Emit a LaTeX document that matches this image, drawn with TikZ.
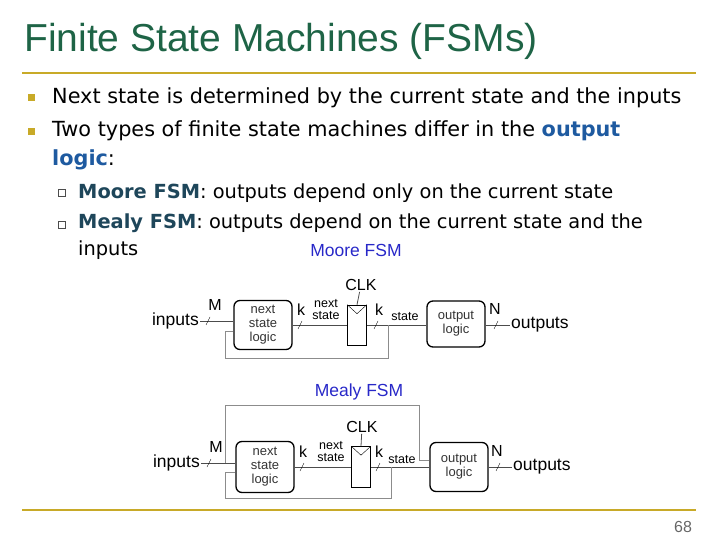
\documentclass[tikz,border=0pt]{standalone}
\usepackage{fontspec}
\setmainfont{DejaVu Sans}
\newfontfamily\arial{Liberation Sans}
\definecolor{ttl}{RGB}{30,100,70}
\definecolor{gold}{RGB}{200,170,40}
\definecolor{hl}{RGB}{30,90,160}
\definecolor{sub}{RGB}{30,70,90}
\definecolor{fsmblue}{RGB}{40,40,200}
\begin{document}
\begin{tikzpicture}[x=1pt,y=-1pt,
  blk/.style={draw,line width=1.3pt,rounded corners=6pt,align=center,font=\arial\fontsize{13}{14}\selectfont,inner sep=0pt,text=black!80},
  reg/.style={draw,fill=white,line width=0.6pt},
  lbl/.style={font=\arial\fontsize{16}{16}\selectfont,inner sep=1pt},
  sml/.style={font=\arial\fontsize{12.5}{12}\selectfont,inner sep=0pt,align=center},
  big/.style={font=\arial\fontsize{17.5}{17}\selectfont,inner sep=1pt},
  wire/.style={draw=black!70,line width=0.8pt},
  fb/.style={draw=black!45,line width=0.8pt},
  bul/.style={fill=gold,minimum size=7pt,inner sep=0pt},
  hbul/.style={draw=black!70,minimum size=7pt,inner sep=0pt}]
\useasboundingbox (0,0) rectangle (720,540);
\node[anchor=west,text=ttl,font=\arial\fontsize{39}{40}\selectfont,inner sep=0pt] (title) at (24,41) {Finite State Machines (FSMs)};
\draw[gold,line width=2pt] (22,73) -- (696,73);
\draw[gold,line width=2pt] (22,510) -- (696,510);
\node[text=black!60,font=\arial\fontsize{16}{16}\selectfont] (pg) at (683,527) {68};
% bullets
\node[bul] (b1) at (31,98) {};
\node[bul] (b2) at (31,132) {};
\node[anchor=west,font=\fontsize{20.8}{20}\selectfont,inner sep=0pt] (t1) at (52,98) {Next state is determined by the current state and the inputs};
\node[anchor=north west,font=\fontsize{20.8}{29}\selectfont,inner sep=0pt,align=left] (t2) at (52,120) {Two types of finite state machines differ in the \textbf{\color{hl}output}\\\textbf{\color{hl}logic}:};
\node[hbul] (s1) at (62,193) {};
\node[hbul] (s2) at (62,225) {};
\node[anchor=west,font=\fontsize{19.4}{18}\selectfont,inner sep=0pt] (u1) at (78,193) {\textbf{\color{sub}Moore FSM}: outputs depend only on the current state};
\node[anchor=north west,font=\fontsize{19.4}{27}\selectfont,inner sep=0pt,align=left] (u2) at (78,214) {\textbf{\color{sub}Mealy FSM}: outputs depend on the current state and the\\inputs};
% ---------- Moore
\node[text=fsmblue,font=\arial\fontsize{17.5}{17}\selectfont] (moore) at (356,250) {Moore FSM};
\node[blk,minimum width=58pt,minimum height=49pt] (ns1) at (263,325) {next\\state\\logic};
\node[reg,minimum width=19pt,minimum height=40pt] (r1) at (357,325) {};
\draw (r1.north west) -- ([yshift=-9pt]r1.north) -- (r1.north east);
\node[blk,minimum width=58pt,minimum height=46pt] (ol1) at (456,324) {output\\logic};
\node[big,anchor=east] (in1) at (200,321) {inputs};
\node[big,anchor=west] (out1) at (510,325) {outputs};
\node[lbl] (clk1) at (361,285) {CLK};
\draw[wire] (clk1) -- (r1.north);
\draw[wire] (in1.east) -- (ns1.west |- in1.east);
\draw[wire] (ns1.east |- r1) -- (r1.west);
\draw[wire] (r1.east) -- (ol1.west |- r1);
\draw[wire] (ol1.east |- out1) -- (out1.west);
\draw[fb] (388,325) -- (388,358) -- (225,358) -- (225,331) -- (ns1.west |- 225,331);
\node[lbl] (m1) at (215,305) {M};
\node[lbl] (k1) at (301,310) {k};
\node[sml] (nx1) at (326,310) {next\\state};
\node[lbl] (k1b) at (379,310) {k};
\node[sml] (st1) at (405,317) {state};
\node[lbl] (n1) at (495,309) {N};
\draw (206,325) -- (210,317);
\draw (298,329) -- (302,321);
\draw (374,329) -- (378,321);
\draw (494,329) -- (498,321);
% ---------- Mealy
\node[text=fsmblue,font=\arial\fontsize{17.5}{17}\selectfont] (mealy) at (359,392) {Mealy FSM};
\node[blk,minimum width=58pt,minimum height=51pt] (ns2) at (265,467) {next\\state\\logic};
\node[reg,minimum width=19pt,minimum height=41pt] (r2) at (361,467) {};
\draw (r2.north west) -- ([yshift=-9pt]r2.north) -- (r2.north east);
\node[blk,minimum width=58pt,minimum height=49pt] (ol2) at (459,467) {output\\logic};
\node[big,anchor=east] (in2) at (201,463) {inputs};
\node[big,anchor=west] (out2) at (512,467) {outputs};
\node[lbl] (clk2) at (362,427) {CLK};
\draw[wire] (clk2) -- (r2.north);
\draw[wire] (in2.east) -- (ns2.west |- in2.east);
\draw[wire] (ns2.east |- r2) -- (r2.west);
\draw[wire] (r2.east) -- (ol2.west |- r2);
\draw[wire] (ol2.east |- out2) -- (out2.west);
\draw[fb] (225,463) -- (225,405) -- (419,405) -- (419,460) -- (ol2.west |- 419,460);
\draw[fb] (391,467) -- (391,498) -- (225,498) -- (225,472) -- (ns2.west |- 225,472);
\node[lbl] (m2) at (216,447) {M};
\node[lbl] (k2) at (303,452) {k};
\node[sml] (nx2) at (331,452) {next\\state};
\node[lbl] (k2b) at (379,452) {k};
\node[sml] (st2) at (402,460) {state};
\node[lbl] (n2) at (497,451) {N};
\draw (207,467) -- (211,459);
\draw (300,471) -- (304,463);
\draw (376,471) -- (380,463);
\draw (496,471) -- (500,463);
\end{tikzpicture}
\end{document}
